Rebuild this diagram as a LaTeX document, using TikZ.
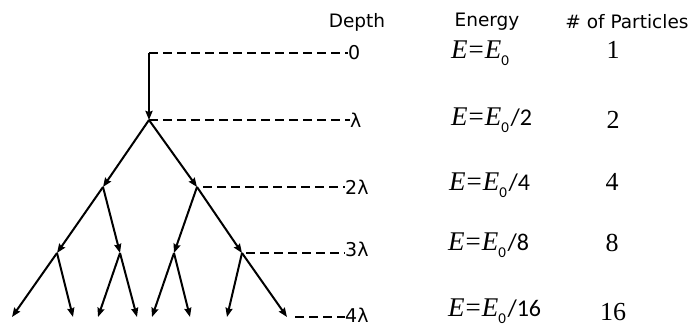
\documentclass[tikz,border=0pt]{standalone}
\usepackage{fontspec}
\setmainfont{DejaVu Sans}
\newfontfamily\tnr{Liberation Serif}
\newfontfamily\carl{Carlito}
\usetikzlibrary{arrows.meta}
\newcommand{\Ez}{{\tnr\fontsize{27}{30}\selectfont\itshape E\kern1pt}{\tnr\fontsize{27}{30}\selectfont=\kern1pt}{\tnr\fontsize{27}{30}\selectfont\itshape E}\raisebox{-7pt}{\carl\fontsize{15}{15}\selectfont 0}}
\newcommand{\En}[1]{\Ez{\carl\fontsize{24}{28}\selectfont\kern1.5pt/#1}}
\begin{document}
\begin{tikzpicture}[x=1pt,y=-1pt,
  tree/.style={line width=2pt,-{Stealth[length=9pt,width=7pt,inset=1pt]}},
  lvl/.style={line width=1.8pt,dash pattern=on 9pt off 5pt},
  hdr/.style={font=\fontsize{18.5}{20}\selectfont,inner sep=0pt},
  dep/.style={font=\fontsize{19}{20}\selectfont,inner sep=0pt,anchor=west},
  en/.style={inner sep=0pt,anchor=west},
  num/.style={font=\tnr\fontsize{26}{28}\selectfont,inner sep=0pt}]
\useasboundingbox (0,0) rectangle (691,326);
% tree coordinates
\coordinate (r) at (149,53);
\coordinate (a) at (149,120);
\coordinate (b1) at (103,187);
\coordinate (b2) at (197,187);
\coordinate (c1) at (57,253);
\coordinate (c2) at (120,253);
\coordinate (c3) at (174,253);
\coordinate (c4) at (242,253);
\coordinate (d1) at (12,317);
\coordinate (d2) at (73,317);
\coordinate (d3) at (98,317);
\coordinate (d4) at (137,317);
\coordinate (d5) at (152,317);
\coordinate (d6) at (190,317);
\coordinate (d7) at (227,317);
\coordinate (d8) at (287,317);
% depth labels
\node[dep] (l0) at (348,53) {0};
\node[dep] (l1) at (350,120) {λ};
\node[dep] (l2) at (345,187) {2λ};
\node[dep] (l3) at (345,249) {3λ};
\node[dep] (l4) at (345,315) {4λ};
% dashed level lines
\draw[lvl] (r) -- (l0.west);
\draw[lvl] (a) -- (l1.west);
\draw[lvl] ([xshift=6pt]b2) -- (l2.west);
\draw[lvl] ([xshift=4pt]c4) -- (l3.west |- c4);
\draw[lvl] ([xshift=8pt]d8) -- (l4.west |- d8);
% tree
\draw[tree] (r) -- (a);
\draw[tree] (a) -- (b1);
\draw[tree] (a) -- (b2);
\draw[tree] (b1) -- (c1);
\draw[tree] (b1) -- (c2);
\draw[tree] (b2) -- (c3);
\draw[tree] (b2) -- (c4);
\draw[tree] (c1) -- (d1);
\draw[tree] (c1) -- (d2);
\draw[tree] (c2) -- (d3);
\draw[tree] (c2) -- (d4);
\draw[tree] (c3) -- (d5);
\draw[tree] (c3) -- (d6);
\draw[tree] (c4) -- (d7);
\draw[tree] (c4) -- (d8);
% headers
\node[hdr] (h1) at (357,22) {Depth};
\node[hdr] (h2) at (487,22) {Energy};
\node[hdr] (h3) at (627,22) {\# of Particles};
% energies
\node[en] (e0) at (451,53) {\Ez};
\node[en] (e1) at (451,120) {\En{2}};
\node[en] (e2) at (449,185) {\En{4}};
\node[en] (e3) at (448,245) {\En{8}};
\node[en] (e4) at (448,311) {\En{16}};
% particle numbers
\node[num] (n0) at (613,50) {1};
\node[num] (n1) at (613,120) {2};
\node[num] (n2) at (612,182) {4};
\node[num] (n3) at (612,243) {8};
\node[num] (n4) at (613,312) {16};
\end{tikzpicture}
\end{document}
